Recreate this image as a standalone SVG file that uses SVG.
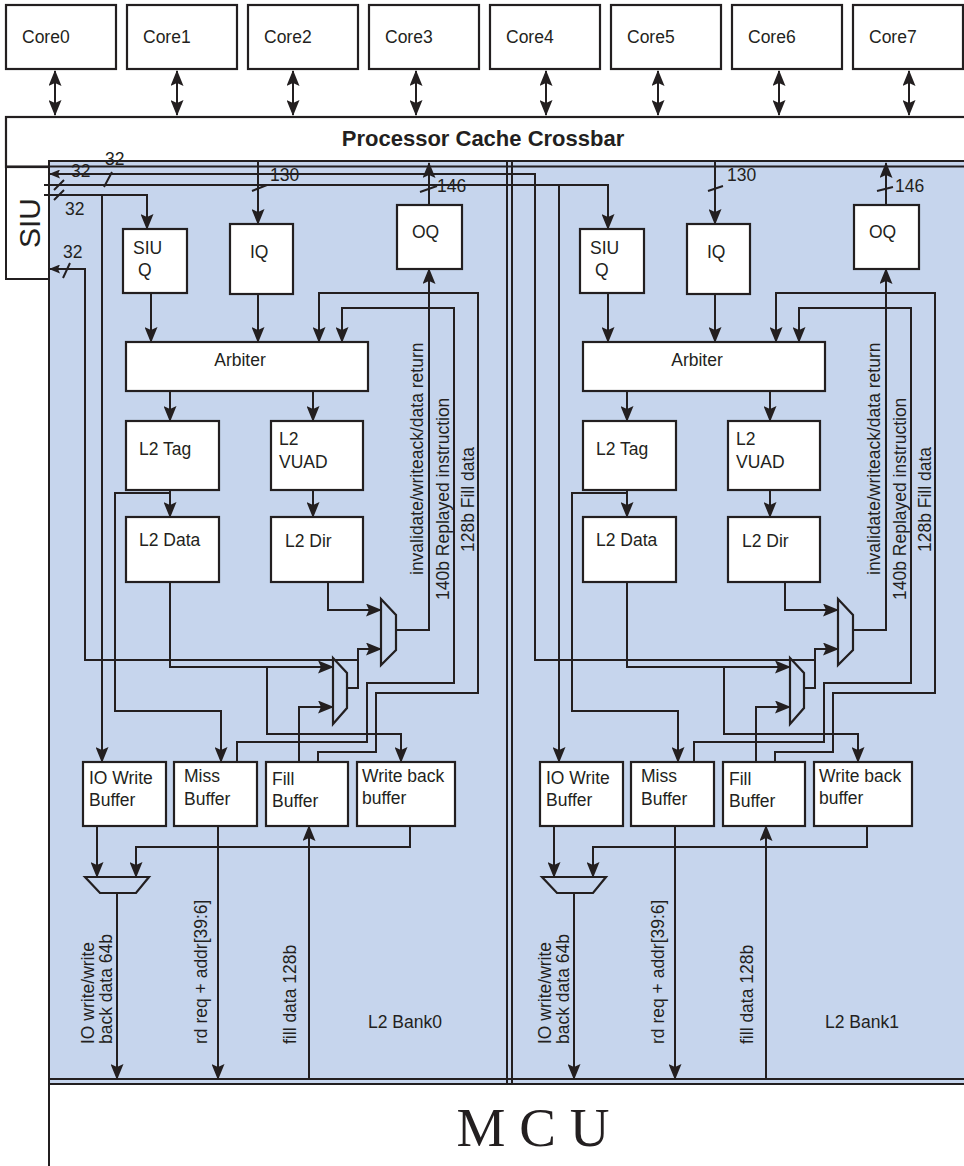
<svg xmlns="http://www.w3.org/2000/svg" width="964" height="1166" viewBox="0 0 964 1166">
<style>
.box{fill:#fff;stroke:#231f20;stroke-width:2.2}
.ln{fill:none;stroke:#231f20;stroke-width:2}
.ar{fill:none;stroke:#231f20;stroke-width:2;marker-end:url(#a)}
.sa{fill:none;stroke:#231f20;stroke-width:2;marker-end:url(#s)}
.mx{fill:#c6d5ed;stroke:#231f20;stroke-width:2.2}
.t{font-family:"Liberation Sans",Arial,sans-serif;font-size:17.5px;fill:#231f20}
.b{font-weight:bold;font-size:22px}
.big{font-size:30px}
</style>
<defs>
<marker id="a" viewBox="0 0 16 13" markerWidth="16" markerHeight="13" refX="15" refY="6.5" orient="auto-start-reverse" markerUnits="userSpaceOnUse"><path d="M0,0 L16,6.5 L0,13 L3,6.5 Z" fill="#231f20"/></marker>
<marker id="s" viewBox="0 0 11 9" markerWidth="11" markerHeight="9" refX="10" refY="4.5" orient="auto" markerUnits="userSpaceOnUse"><path d="M0,0 L11,4.5 L0,9 L2,4.5 Z" fill="#231f20"/></marker>
</defs>

<!-- backgrounds -->
<g id="crossbar"><rect class="box" x="6" y="117" width="970" height="50"/><text class="t b" x="483" y="146" text-anchor="middle">Processor Cache Crossbar</text></g>
<g id="banks-bg">
<rect x="49" y="161" width="930" height="918" fill="#c6d5ed" stroke="#231f20" stroke-width="2"/>
<rect x="49" y="1079" width="930" height="5" fill="#c6d5ed"/>
<line class="ln" x1="49" y1="1079" x2="970" y2="1079"/>
<line class="ln" x1="49" y1="1084" x2="970" y2="1084"/>
<line class="ln" x1="507" y1="161" x2="507" y2="1084"/>
<line class="ln" x1="512" y1="161" x2="512" y2="1084"/>
<line class="ln" x1="6" y1="166.5" x2="970" y2="166.5" stroke-width="2.4"/>
</g>
<g id="mcu"><line class="ln" x1="49" y1="1079" x2="49" y2="1166"/><text x="533" y="1146" text-anchor="middle" font-family="Liberation Serif,Times New Roman,serif" font-size="55" fill="#231f20">M C U</text></g>
<g id="siu"><path class="ln" d="M6,167 V279 H49" stroke-width="2.2"/><text class="t big" transform="translate(40,223) rotate(-90)" text-anchor="middle">SIU</text></g>

<!-- cores -->
<g id="core0"><rect class="box" x="6" y="5" width="110" height="64"/><text class="t" x="22" y="43">Core0</text></g>
<g id="core1"><rect class="box" x="127" y="5" width="110" height="64"/><text class="t" x="143" y="43">Core1</text></g>
<g id="core2"><rect class="box" x="248" y="5" width="110" height="64"/><text class="t" x="264" y="43">Core2</text></g>
<g id="core3"><rect class="box" x="369" y="5" width="110" height="64"/><text class="t" x="385" y="43">Core3</text></g>
<g id="core4"><rect class="box" x="490" y="5" width="110" height="64"/><text class="t" x="506" y="43">Core4</text></g>
<g id="core5"><rect class="box" x="611" y="5" width="110" height="64"/><text class="t" x="627" y="43">Core5</text></g>
<g id="core6"><rect class="box" x="732" y="5" width="110" height="64"/><text class="t" x="748" y="43">Core6</text></g>
<g id="core7"><rect class="box" x="853" y="5" width="110" height="64"/><text class="t" x="869" y="43">Core7</text></g>

<!-- bank 0 nodes -->
<g id="siuq0"><rect class="box" x="123" y="229" width="64" height="64"/><text class="t" x="133" y="254">SIU</text><text class="t" x="138" y="276">Q</text></g>
<g id="iq0"><rect class="box" x="230" y="224" width="63" height="70"/><text class="t" x="250" y="258">IQ</text></g>
<g id="oq0"><rect class="box" x="397" y="205" width="65" height="64"/><text class="t" x="412" y="238">OQ</text></g>
<g id="arbiter0"><rect class="box" x="126" y="342" width="242" height="49"/><text class="t" x="240" y="366" text-anchor="middle">Arbiter</text></g>
<g id="l2tag0"><rect class="box" x="126" y="421" width="93" height="69"/><text class="t" x="139" y="455">L2 Tag</text></g>
<g id="l2vuad0"><rect class="box" x="271" y="421" width="92" height="69"/><text class="t" x="279" y="445">L2</text><text class="t" x="279" y="468">VUAD</text></g>
<g id="l2data0"><rect class="box" x="126" y="517" width="93" height="65"/><text class="t" x="139" y="546">L2 Data</text></g>
<g id="l2dir0"><rect class="box" x="271" y="517" width="92" height="65"/><text class="t" x="285" y="547">L2 Dir</text></g>
<g id="iowb0"><rect class="box" x="83" y="762" width="83" height="64"/><text class="t" x="89" y="784">IO Write</text><text class="t" x="89" y="806">Buffer</text></g>
<g id="miss0"><rect class="box" x="174" y="762" width="83" height="64"/><text class="t" x="184" y="782">Miss</text><text class="t" x="184" y="805">Buffer</text></g>
<g id="fill0"><rect class="box" x="266" y="762" width="82" height="64"/><text class="t" x="272" y="785">Fill</text><text class="t" x="272" y="807">Buffer</text></g>
<g id="wbb0"><rect class="box" x="357" y="762" width="98" height="64"/><text class="t" x="362" y="782">Write back</text><text class="t" x="362" y="804">buffer</text></g>
<g id="mux1_0"><polygon class="mx" points="381,599 396,615 396,650 381,665"/></g>
<g id="mux2_0"><polygon class="mx" points="333,658 347,673 347,708 333,724"/></g>
<g id="mux3_0"><polygon class="mx" points="85,877 149,877 136,893 100,893"/></g>
<g id="labels0">
<text class="t" transform="translate(423,575) rotate(-90)">invalidate/writeack/data return</text>
<text class="t" transform="translate(449,600) rotate(-90)">140b Replayed instruction</text>
<text class="t" transform="translate(474,552) rotate(-90)">128b Fill data</text>
<text class="t" transform="translate(94,1044) rotate(-90)">IO write/write</text>
<text class="t" transform="translate(112,1044) rotate(-90)">back data 64b</text>
<text class="t" transform="translate(207,1044) rotate(-90)">rd req + addr[39:6]</text>
<text class="t" transform="translate(296,1044) rotate(-90)">fill data 128b</text>
<text class="t" x="368" y="1028">L2 Bank0</text>
</g>

<!-- bank 1 nodes -->
<g id="siuq1" transform="translate(457,0)"><rect class="box" x="123" y="229" width="64" height="64"/><text class="t" x="133" y="254">SIU</text><text class="t" x="138" y="276">Q</text></g>
<g id="iq1" transform="translate(457,0)"><rect class="box" x="230" y="224" width="63" height="70"/><text class="t" x="250" y="258">IQ</text></g>
<g id="oq1" transform="translate(457,0)"><rect class="box" x="397" y="205" width="65" height="64"/><text class="t" x="412" y="238">OQ</text></g>
<g id="arbiter1" transform="translate(457,0)"><rect class="box" x="126" y="342" width="242" height="49"/><text class="t" x="240" y="366" text-anchor="middle">Arbiter</text></g>
<g id="l2tag1" transform="translate(457,0)"><rect class="box" x="126" y="421" width="93" height="69"/><text class="t" x="139" y="455">L2 Tag</text></g>
<g id="l2vuad1" transform="translate(457,0)"><rect class="box" x="271" y="421" width="92" height="69"/><text class="t" x="279" y="445">L2</text><text class="t" x="279" y="468">VUAD</text></g>
<g id="l2data1" transform="translate(457,0)"><rect class="box" x="126" y="517" width="93" height="65"/><text class="t" x="139" y="546">L2 Data</text></g>
<g id="l2dir1" transform="translate(457,0)"><rect class="box" x="271" y="517" width="92" height="65"/><text class="t" x="285" y="547">L2 Dir</text></g>
<g id="iowb1" transform="translate(457,0)"><rect class="box" x="83" y="762" width="83" height="64"/><text class="t" x="89" y="784">IO Write</text><text class="t" x="89" y="806">Buffer</text></g>
<g id="miss1" transform="translate(457,0)"><rect class="box" x="174" y="762" width="83" height="64"/><text class="t" x="184" y="782">Miss</text><text class="t" x="184" y="805">Buffer</text></g>
<g id="fill1" transform="translate(457,0)"><rect class="box" x="266" y="762" width="82" height="64"/><text class="t" x="272" y="785">Fill</text><text class="t" x="272" y="807">Buffer</text></g>
<g id="wbb1" transform="translate(457,0)"><rect class="box" x="357" y="762" width="98" height="64"/><text class="t" x="362" y="782">Write back</text><text class="t" x="362" y="804">buffer</text></g>
<g id="mux1_1" transform="translate(457,0)"><polygon class="mx" points="381,599 396,615 396,650 381,665"/></g>
<g id="mux2_1" transform="translate(457,0)"><polygon class="mx" points="333,658 347,673 347,708 333,724"/></g>
<g id="mux3_1" transform="translate(457,0)"><polygon class="mx" points="85,877 149,877 136,893 100,893"/></g>
<g id="labels1" transform="translate(457,0)">
<text class="t" transform="translate(423,575) rotate(-90)">invalidate/writeack/data return</text>
<text class="t" transform="translate(449,600) rotate(-90)">140b Replayed instruction</text>
<text class="t" transform="translate(474,552) rotate(-90)">128b Fill data</text>
<text class="t" transform="translate(94,1044) rotate(-90)">IO write/write</text>
<text class="t" transform="translate(112,1044) rotate(-90)">back data 64b</text>
<text class="t" transform="translate(207,1044) rotate(-90)">rd req + addr[39:6]</text>
<text class="t" transform="translate(296,1044) rotate(-90)">fill data 128b</text>
<text class="t" x="368" y="1028">L2 Bank1</text>
</g>

<!-- connectors -->
<g id="connectors">
<path class="ar" d="M55,71 V115" marker-start="url(#a)"/>
<path class="ar" d="M177,71 V115" marker-start="url(#a)"/>
<path class="ar" d="M293,71 V115" marker-start="url(#a)"/>
<path class="ar" d="M416,71 V115" marker-start="url(#a)"/>
<path class="ar" d="M546,71 V115" marker-start="url(#a)"/>
<path class="ar" d="M658,71 V115" marker-start="url(#a)"/>
<path class="ar" d="M779,71 V115" marker-start="url(#a)"/>
<path class="ar" d="M909,71 V115" marker-start="url(#a)"/>

<!-- SIU buses -->
<path class="ar" d="M44,195 H147 V229"/>
<path class="ar" d="M102,195 V762"/>
<path class="ar" d="M44,185 H608 V229"/>
<path class="ar" d="M559,185 V762"/>
<path class="sa" d="M815,660 H535 V174 H50"/>
<path class="sa" d="M358,660 H85 V269 H50"/>
<path class="ln" d="M54,190 L64,180 M54,200 L64,190 M104,187 L112,172 M63,278 L70,263"/>
<text class="t" x="105" y="165">32</text>
<text class="t" x="71" y="177">32</text>
<text class="t" x="65" y="215">32</text>
<text class="t" x="63" y="258">32</text>

<g id="conn-bank0">
<path class="ar" d="M258,161 V224"/>
<path class="ar" d="M429,205 V163"/>
<path class="ln" d="M252,191 L267,185 M420,192 L437,186"/>
<text class="t" x="270" y="181">130</text>
<text class="t" x="437" y="192">146</text>
<path class="ar" d="M151,293 V342"/>
<path class="ar" d="M258,294 V342"/>
<path class="ar" d="M170,391 V421"/>
<path class="ar" d="M170,490 V517"/>
<path class="ar" d="M170,493 H115 V711 H221 V762"/>
<path class="ar" d="M313,391 V421"/>
<path class="ar" d="M313,490 V517"/>
<path class="ar" d="M328,582 V610 H381"/>
<path class="ar" d="M170,582 V667 H333"/>
<path class="ar" d="M267,667 V734 H401 V762"/>
<path class="ar" d="M347,688 H358 V649 H381"/>
<path class="ar" d="M396,630 H429 V269"/>
<path class="ar" d="M237,762 V742 H367 V683 H454 V308 H342 V342"/>
<path class="ar" d="M318,762 V752 H376 V693 H478 V293 H319 V342"/>
<path class="ar" d="M299,762 V707 H333"/>
<path class="ar" d="M97,826 V877"/>
<path class="ar" d="M410,826 V847 H136 V877"/>
<path class="ar" d="M117,893 V1079"/>
<path class="ar" d="M218,826 V1079"/>
<path class="ar" d="M309,1079 V826"/>
</g>
<g id="conn-bank1" transform="translate(457,0)">
<path class="ar" d="M258,161 V224"/>
<path class="ar" d="M429,205 V163"/>
<path class="ln" d="M251,191 L266,186 M420,191 L436,187"/>
<text class="t" x="270" y="181">130</text>
<text class="t" x="438" y="192">146</text>
<path class="ar" d="M151,293 V342"/>
<path class="ar" d="M258,294 V342"/>
<path class="ar" d="M170,391 V421"/>
<path class="ar" d="M170,490 V517"/>
<path class="ar" d="M170,493 H115 V711 H221 V762"/>
<path class="ar" d="M313,391 V421"/>
<path class="ar" d="M313,490 V517"/>
<path class="ar" d="M328,582 V610 H381"/>
<path class="ar" d="M170,582 V667 H333"/>
<path class="ar" d="M267,667 V734 H401 V762"/>
<path class="ar" d="M347,688 H358 V649 H381"/>
<path class="ar" d="M396,630 H429 V269"/>
<path class="ar" d="M237,762 V742 H367 V683 H454 V308 H342 V342"/>
<path class="ar" d="M318,762 V752 H376 V693 H478 V293 H319 V342"/>
<path class="ar" d="M299,762 V707 H333"/>
<path class="ar" d="M97,826 V877"/>
<path class="ar" d="M410,826 V847 H136 V877"/>
<path class="ar" d="M117,893 V1079"/>
<path class="ar" d="M218,826 V1079"/>
<path class="ar" d="M309,1079 V826"/>
</g>
</g>
</svg>
